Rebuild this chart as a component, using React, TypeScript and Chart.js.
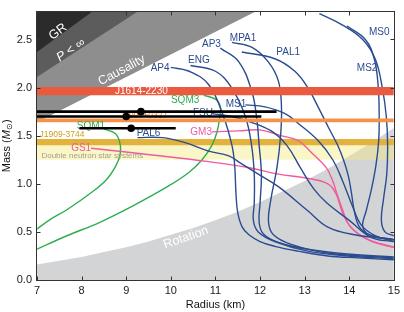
import React, { useEffect, useRef } from "react";
import { Chart, registerables } from "chart.js";

Chart.register(...registerables);

type Pt = [number, number];

// ---- axis ticks ----
const radiusTicks = [7, 8, 9, 10, 11, 12, 13, 14, 15];
const massTicks = [0, 0.5, 1.0, 1.5, 2.0, 2.5];

// ---- excluded regions: boundary points [radius km, mass Msun] ----
const grBoundary: Pt[] = [[7, 2.37], [8.24, 2.79]];
const finitePressureBoundary: Pt[] = [[7, 2.11], [9.26, 2.79]];
const causalityBoundary: Pt[] = [[7, 1.64], [11.9, 2.79]];
const rotationBoundary: Pt[] = [
  [7, 0.16], [7.5, 0.2], [8, 0.24], [8.5, 0.29], [9, 0.34], [9.5, 0.4], [10, 0.47],
  [10.5, 0.54], [11, 0.62], [11.5, 0.71], [12, 0.81], [12.5, 0.92], [13, 1.03],
  [13.5, 1.15], [14, 1.29], [14.5, 1.43], [15, 1.58],
];

// ---- pulsar mass bands [low, high] ----
const j1614Mass = [1.92, 2.005];
const j1903Mass = [1.64, 1.678];
const j1909Mass = [1.4, 1.465];
const dnsMass = [1.25, 1.44];

// ---- measurements with radius ranges ----
const measMass = [1.75, 1.7, 1.577];
const measRadius = [9.33, 9.0, 9.11];
const measRadiusLow = [7.0, 7.0, 7.95];
const measRadiusHigh = [12.37, 12.03, 10.11];

// ---- equation-of-state mass-radius curves [radius km, mass Msun] ----
const ap4: Pt[] = [
  [10.0, 2.21], [10.41, 2.17], [10.85, 2.03], [11.18, 1.7], [11.37, 1.4], [11.43, 1.2],
  [11.46, 0.9], [11.5, 0.7], [11.6, 0.55], [11.75, 0.47], [12.0, 0.4], [12.33, 0.35],
  [12.85, 0.3], [13.52, 0.25], [14.2, 0.23], [15.0, 0.21],
];
const eng: Pt[] = [
  [10.44, 2.23], [11.0, 2.17], [11.36, 2.0], [11.67, 1.7], [11.81, 1.4], [11.87, 1.1],
  [11.87, 0.8], [11.85, 0.62], [11.96, 0.5], [12.33, 0.4], [13.07, 0.3], [13.96, 0.25], [15.0, 0.22],
];
const ap3: Pt[] = [
  [11.11, 2.41], [11.52, 2.27], [11.81, 1.97], [11.92, 1.7], [11.98, 1.4], [12.03, 1.1],
  [12.0, 0.8], [11.98, 0.6], [12.07, 0.48], [12.41, 0.39], [13.07, 0.32], [13.96, 0.27], [15.0, 0.24],
];
const mpa1: Pt[] = [
  [11.37, 2.47], [11.81, 2.42], [12.18, 2.27], [12.41, 2.07], [12.48, 1.8], [12.46, 1.5],
  [12.38, 1.17], [12.24, 0.83], [12.19, 0.6], [12.3, 0.47], [12.7, 0.37], [13.52, 0.28], [15.0, 0.23],
];
const pal1: Pt[] = [
  [11.59, 2.37], [12.33, 2.3], [12.78, 2.17], [13.07, 2.0], [13.3, 1.8], [13.54, 1.58],
  [13.74, 1.4], [13.87, 1.25], [13.98, 1.08], [14.05, 0.9], [14.12, 0.7], [14.23, 0.55],
  [14.45, 0.47], [15.0, 0.42],
];
const ms0: Pt[] = [
  [13.33, 2.77], [13.85, 2.65], [14.3, 2.5], [14.58, 2.3], [14.74, 2.0], [14.83, 1.7],
  [14.86, 1.4], [14.84, 1.1], [14.77, 0.85], [14.72, 0.62], [14.8, 0.5], [15.0, 0.46],
];
const ms2: Pt[] = [
  [13.95, 2.64], [14.36, 2.5], [14.56, 2.3], [14.65, 2.0], [14.67, 1.7], [14.66, 1.45],
  [14.6, 1.2], [14.5, 0.95], [14.38, 0.72], [14.3, 0.56], [14.45, 0.47], [15.0, 0.42],
];
const ms1: Pt[] = [
  [11.67, 1.82], [12.11, 1.8], [12.56, 1.73], [12.85, 1.63], [13.3, 1.45], [13.63, 1.25],
  [13.85, 1.03], [14.07, 0.77], [14.27, 0.57], [14.58, 0.46], [15.0, 0.4],
];
const fsu: Pt[] = [
  [10.92, 1.73], [11.36, 1.7], [11.74, 1.65], [12.25, 1.55], [12.6, 1.4], [12.9, 1.17],
  [13.2, 0.95], [13.5, 0.8], [14.0, 0.62], [14.5, 0.44], [15.0, 0.4],
];
const pal6: Pt[] = [
  [9.25, 1.48], [9.81, 1.48], [10.3, 1.43], [10.85, 1.34], [11.3, 1.29], [11.58, 1.21],
  [11.96, 1.1], [12.41, 0.97], [13.07, 0.72], [13.52, 0.55], [14.12, 0.47], [15.0, 0.42],
];
const gm3: Pt[] = [
  [10.92, 1.54], [11.52, 1.55], [12.0, 1.56], [12.47, 1.5], [12.85, 1.45], [13.14, 1.33],
  [13.48, 1.17], [13.63, 1.03], [13.7, 0.93], [13.85, 0.73], [14.0, 0.57], [14.37, 0.43], [15.0, 0.34],
];
const gs1: Pt[] = [
  [8.21, 1.37], [9.58, 1.3], [10.85, 1.23], [11.74, 1.17], [12.41, 1.1], [13.03, 1.06],
  [13.52, 1.0], [13.7, 0.9], [13.85, 0.7], [14.07, 0.53], [14.52, 0.4], [15.0, 0.34],
];
const sqm1: Pt[] = [
  [8.5, 1.57], [8.76, 1.52], [8.86, 1.42], [8.86, 1.3], [8.75, 1.17], [8.55, 1.04],
  [8.25, 0.92], [7.67, 0.73], [7.3, 0.63], [7.0, 0.53],
];
const sqm3: Pt[] = [
  [10.74, 1.92], [11.0, 1.88], [11.11, 1.8], [11.09, 1.67], [11.03, 1.53], [10.92, 1.4],
  [10.7, 1.25], [10.41, 1.12], [9.96, 0.98], [9.15, 0.77], [8.41, 0.6], [7.67, 0.46], [7.0, 0.32],
];

// ---- styling ----
const FONT = '"Liberation Sans", Arial, Helvetica, sans-serif';
const BLUE = "#2b4c90";
const GREEN = "#2fae4e";
const PINK = "#ee5c9f";

type Label = { text: string; r: number; m: number; color: string; size: number; angle?: number };

const textLabels: Label[] = [
  { text: "AP4", r: 9.76, m: 2.2, color: BLUE, size: 10 },
  { text: "ENG", r: 10.63, m: 2.28, color: BLUE, size: 10 },
  { text: "AP3", r: 10.91, m: 2.45, color: BLUE, size: 10 },
  { text: "MPA1", r: 11.62, m: 2.51, color: BLUE, size: 10 },
  { text: "PAL1", r: 12.63, m: 2.37, color: BLUE, size: 10 },
  { text: "MS0", r: 14.67, m: 2.58, color: BLUE, size: 10 },
  { text: "MS2", r: 14.4, m: 2.2, color: BLUE, size: 10 },
  { text: "MS1", r: 11.46, m: 1.83, color: BLUE, size: 10 },
  { text: "FSU", r: 10.72, m: 1.73, color: BLUE, size: 10 },
  { text: "PAL6", r: 9.5, m: 1.53, color: BLUE, size: 10 },
  { text: "SQM3", r: 10.32, m: 1.87, color: GREEN, size: 10 },
  { text: "SQM1", r: 8.21, m: 1.6, color: GREEN, size: 10 },
  { text: "GM3", r: 10.68, m: 1.54, color: PINK, size: 10 },
  { text: "GS1", r: 7.99, m: 1.37, color: PINK, size: 10 },
  { text: "J1614-2230", r: 9.34, m: 1.962, color: "#ffffff", size: 10 },
  { text: "J1903+0327", r: 9.39, m: 1.71, color: "#f07a22", size: 8.5 },
  { text: "J1909-3744", r: 7.56, m: 1.51, color: "#d49a1a", size: 8.5 },
  { text: "Double neutron star systems", r: 8.24, m: 1.29, color: "#a19f8c", size: 8 },
  { text: "GR", r: 7.47, m: 2.58, color: "#ffffff", size: 12.5, angle: -37 },
  { text: "Causality", r: 8.9, m: 2.18, color: "#ffffff", size: 12.5, angle: -28 },
  { text: "Rotation", r: 10.34, m: 0.44, color: "#ffffff", size: 12.5, angle: -19 },
];
const pressureLabel = { r: 7.76, m: 2.39, angle: -34 };

const toXY = (pts: Pt[]) => pts.map(([x, y]) => ({ x, y }));

const region = (pts: Pt[], color: string, order: number, fill: any) => ({
  data: toXY(pts),
  borderColor: "rgba(0,0,0,0)",
  borderWidth: 0,
  backgroundColor: color,
  fill,
  pointRadius: 0,
  tension: 0,
  order,
});

const band = (range: number[], color: string, order: number) => ({
  data: [{ x: 7, y: range[1] }, { x: 15, y: range[1] }],
  fill: { value: range[0] },
  backgroundColor: color,
  borderColor: "rgba(0,0,0,0)",
  borderWidth: 0,
  pointRadius: 0,
  tension: 0,
  order,
});

const curve = (pts: Pt[], color: string) => ({
  data: toXY(pts),
  borderColor: color,
  borderWidth: 1.4,
  pointRadius: 0,
  fill: false,
  tension: 0.4,
  order: 50,
});

type Part = { text: string; font: string; dy?: number };

function drawRich(ctx: CanvasRenderingContext2D, parts: Part[], x: number, y: number, angle: number, color: string) {
  ctx.save();
  ctx.translate(x, y);
  ctx.rotate((angle * Math.PI) / 180);
  ctx.fillStyle = color;
  ctx.textBaseline = "middle";
  ctx.textAlign = "left";
  let total = 0;
  const widths = parts.map((p) => {
    ctx.font = p.font;
    const w = ctx.measureText(p.text).width;
    total += w;
    return w;
  });
  let cx = -total / 2;
  parts.forEach((p, i) => {
    ctx.font = p.font;
    ctx.fillText(p.text, cx, p.dy || 0);
    cx += widths[i];
  });
  ctx.restore();
}

function drawLabels(chart: any) {
  const ctx: CanvasRenderingContext2D = chart.ctx;
  const xs = chart.scales.x;
  const ys = chart.scales.y;
  textLabels.forEach((t) => {
    ctx.save();
    ctx.translate(xs.getPixelForValue(t.r), ys.getPixelForValue(t.m));
    if (t.angle) ctx.rotate((t.angle * Math.PI) / 180);
    ctx.font = `${t.size}px ${FONT}`;
    ctx.fillStyle = t.color;
    ctx.textAlign = "center";
    ctx.textBaseline = "middle";
    ctx.fillText(t.text, 0, 0);
    ctx.restore();
  });
  drawRich(
    ctx,
    [
      { text: "P", font: `italic 12.5px ${FONT}` },
      { text: " < ∞", font: `12.5px ${FONT}` },
    ],
    xs.getPixelForValue(pressureLabel.r),
    ys.getPixelForValue(pressureLabel.m),
    pressureLabel.angle,
    "#ffffff"
  );
}

const overlayPlugin = {
  id: "overlay",
  beforeDatasetsDraw(chart: any) {
    chart.$labelsDone = false;
  },
  beforeDatasetDraw(chart: any, args: any) {
    const ds = chart.data.datasets[args.index];
    if (ds.label === "measurement" && !chart.$labelsDone) {
      drawLabels(chart);
      chart.$labelsDone = true;
    }
  },
  afterDatasetsDraw(chart: any) {
    if (!chart.$labelsDone) {
      drawLabels(chart);
      chart.$labelsDone = true;
    }
    const ctx: CanvasRenderingContext2D = chart.ctx;
    const { left, right, top, bottom } = chart.chartArea;
    const xs = chart.scales.x;
    const ys = chart.scales.y;
    ctx.save();
    ctx.strokeStyle = "#333";
    ctx.lineWidth = 1;
    const L = Math.round(left) - 0.5;
    const R = Math.round(right) + 0.5;
    const T = Math.round(top) - 0.5;
    const B = Math.round(bottom) + 0.5;
    ctx.strokeRect(L, T, R - L, B - T);
    ctx.beginPath();
    const tl = 4;
    radiusTicks.forEach((v) => {
      const x = Math.round(xs.getPixelForValue(v)) + 0.5;
      ctx.moveTo(x, B);
      ctx.lineTo(x, B - tl);
      ctx.moveTo(x, T);
      ctx.lineTo(x, T + tl);
    });
    massTicks.forEach((v) => {
      const y = Math.round(ys.getPixelForValue(v)) + 0.5;
      ctx.moveTo(L, y);
      ctx.lineTo(L + tl, y);
      ctx.moveTo(R, y);
      ctx.lineTo(R - tl, y);
    });
    ctx.stroke();
    ctx.restore();
  },
  afterDraw(chart: any) {
    const ctx: CanvasRenderingContext2D = chart.ctx;
    const { left, right, top, bottom } = chart.chartArea;
    drawRich(ctx, [{ text: "Radius (km)", font: `11px ${FONT}` }], (left + right) / 2, 305, 0, "#111");
    drawRich(
      ctx,
      [
        { text: "Mass (", font: `11px ${FONT}` },
        { text: "M", font: `italic 11px ${FONT}` },
        { text: "⊙", font: `8px ${FONT}`, dy: 3 },
        { text: ")", font: `11px ${FONT}` },
      ],
      7,
      (top + bottom) / 2,
      -90,
      "#111"
    );
  },
};

export default function App() {
  const ref = useRef<HTMLCanvasElement | null>(null);

  useEffect(() => {
    if (!ref.current) return;
    const datasets: any[] = [
      region(rotationBoundary, "#d3d4d6", 100, "origin"),
      region(causalityBoundary, "#8e8e8e", 99, "end"),
      region(finitePressureBoundary, "#5c5c5c", 98, "end"),
      region(grBoundary, "#2b2b2b", 97, "end"),
      band(dnsMass, "rgba(243,234,127,0.43)", 96),
      band(j1909Mass, "#e2b33c", 95),
      curve(ap4, BLUE),
      curve(eng, BLUE),
      curve(ap3, BLUE),
      curve(mpa1, BLUE),
      curve(pal1, BLUE),
      curve(ms0, BLUE),
      curve(ms2, BLUE),
      curve(ms1, BLUE),
      curve(fsu, BLUE),
      curve(pal6, BLUE),
      curve(gm3, PINK),
      curve(gs1, PINK),
      curve(sqm1, GREEN),
      curve(sqm3, GREEN),
      band(j1903Mass, "#f3934a", 20),
      band(j1614Mass, "#ea5a3e", 20),
      ...measMass.map((m, i) => ({
        label: "measurement",
        data: [
          { x: measRadiusLow[i], y: m },
          { x: measRadiusHigh[i], y: m },
        ],
        borderColor: "#000",
        borderWidth: 2.6,
        pointRadius: 0,
        fill: false,
        tension: 0,
        order: 10,
      })),
      {
        label: "measurement-point",
        data: measRadius.map((r, i) => ({ x: r, y: measMass[i] })),
        showLine: false,
        pointRadius: 3.8,
        pointBackgroundColor: "#000",
        pointBorderWidth: 0,
        borderColor: "#000",
        order: 5,
      },
    ];

    const chart = new Chart(ref.current, {
      type: "line",
      data: { datasets },
      plugins: [overlayPlugin],
      options: {
        animation: false,
        responsive: false,
        maintainAspectRatio: false,
        devicePixelRatio: 1,
        events: [],
        layout: { padding: { left: 0, right: 7, top: 1, bottom: 0 } },
        plugins: { legend: { display: false }, tooltip: { enabled: false } },
        scales: {
          x: {
            type: "linear",
            min: 7,
            max: 15,
            afterBuildTicks: (s: any) => {
              s.ticks = radiusTicks.map((v) => ({ value: v }));
            },
            afterFit: (s: any) => {
              s.height = 32;
            },
            grid: { display: false, drawTicks: false },
            border: { display: false },
            ticks: {
              padding: 4,
              color: "#1a1a1a",
              font: { family: FONT, size: 11 },
              maxRotation: 0,
              callback: (v: any) => String(v),
            },
          },
          y: {
            type: "linear",
            min: 0,
            max: 2.79,
            afterBuildTicks: (s: any) => {
              s.ticks = massTicks.map((v) => ({ value: v }));
            },
            afterFit: (s: any) => {
              s.width = 37;
            },
            grid: { display: false, drawTicks: false },
            border: { display: false },
            ticks: {
              padding: 5,
              color: "#1a1a1a",
              font: { family: FONT, size: 11 },
              callback: (v: any) => Number(v).toFixed(1),
            },
          },
        },
      } as any,
    });
    return () => chart.destroy();
  }, []);

  return (
    <div style={{ position: "fixed", left: 0, top: 0, width: 404, height: 312, background: "#fff" }}>
      <canvas ref={ref} width={404} height={312} style={{ display: "block" }} />
    </div>
  );
}
